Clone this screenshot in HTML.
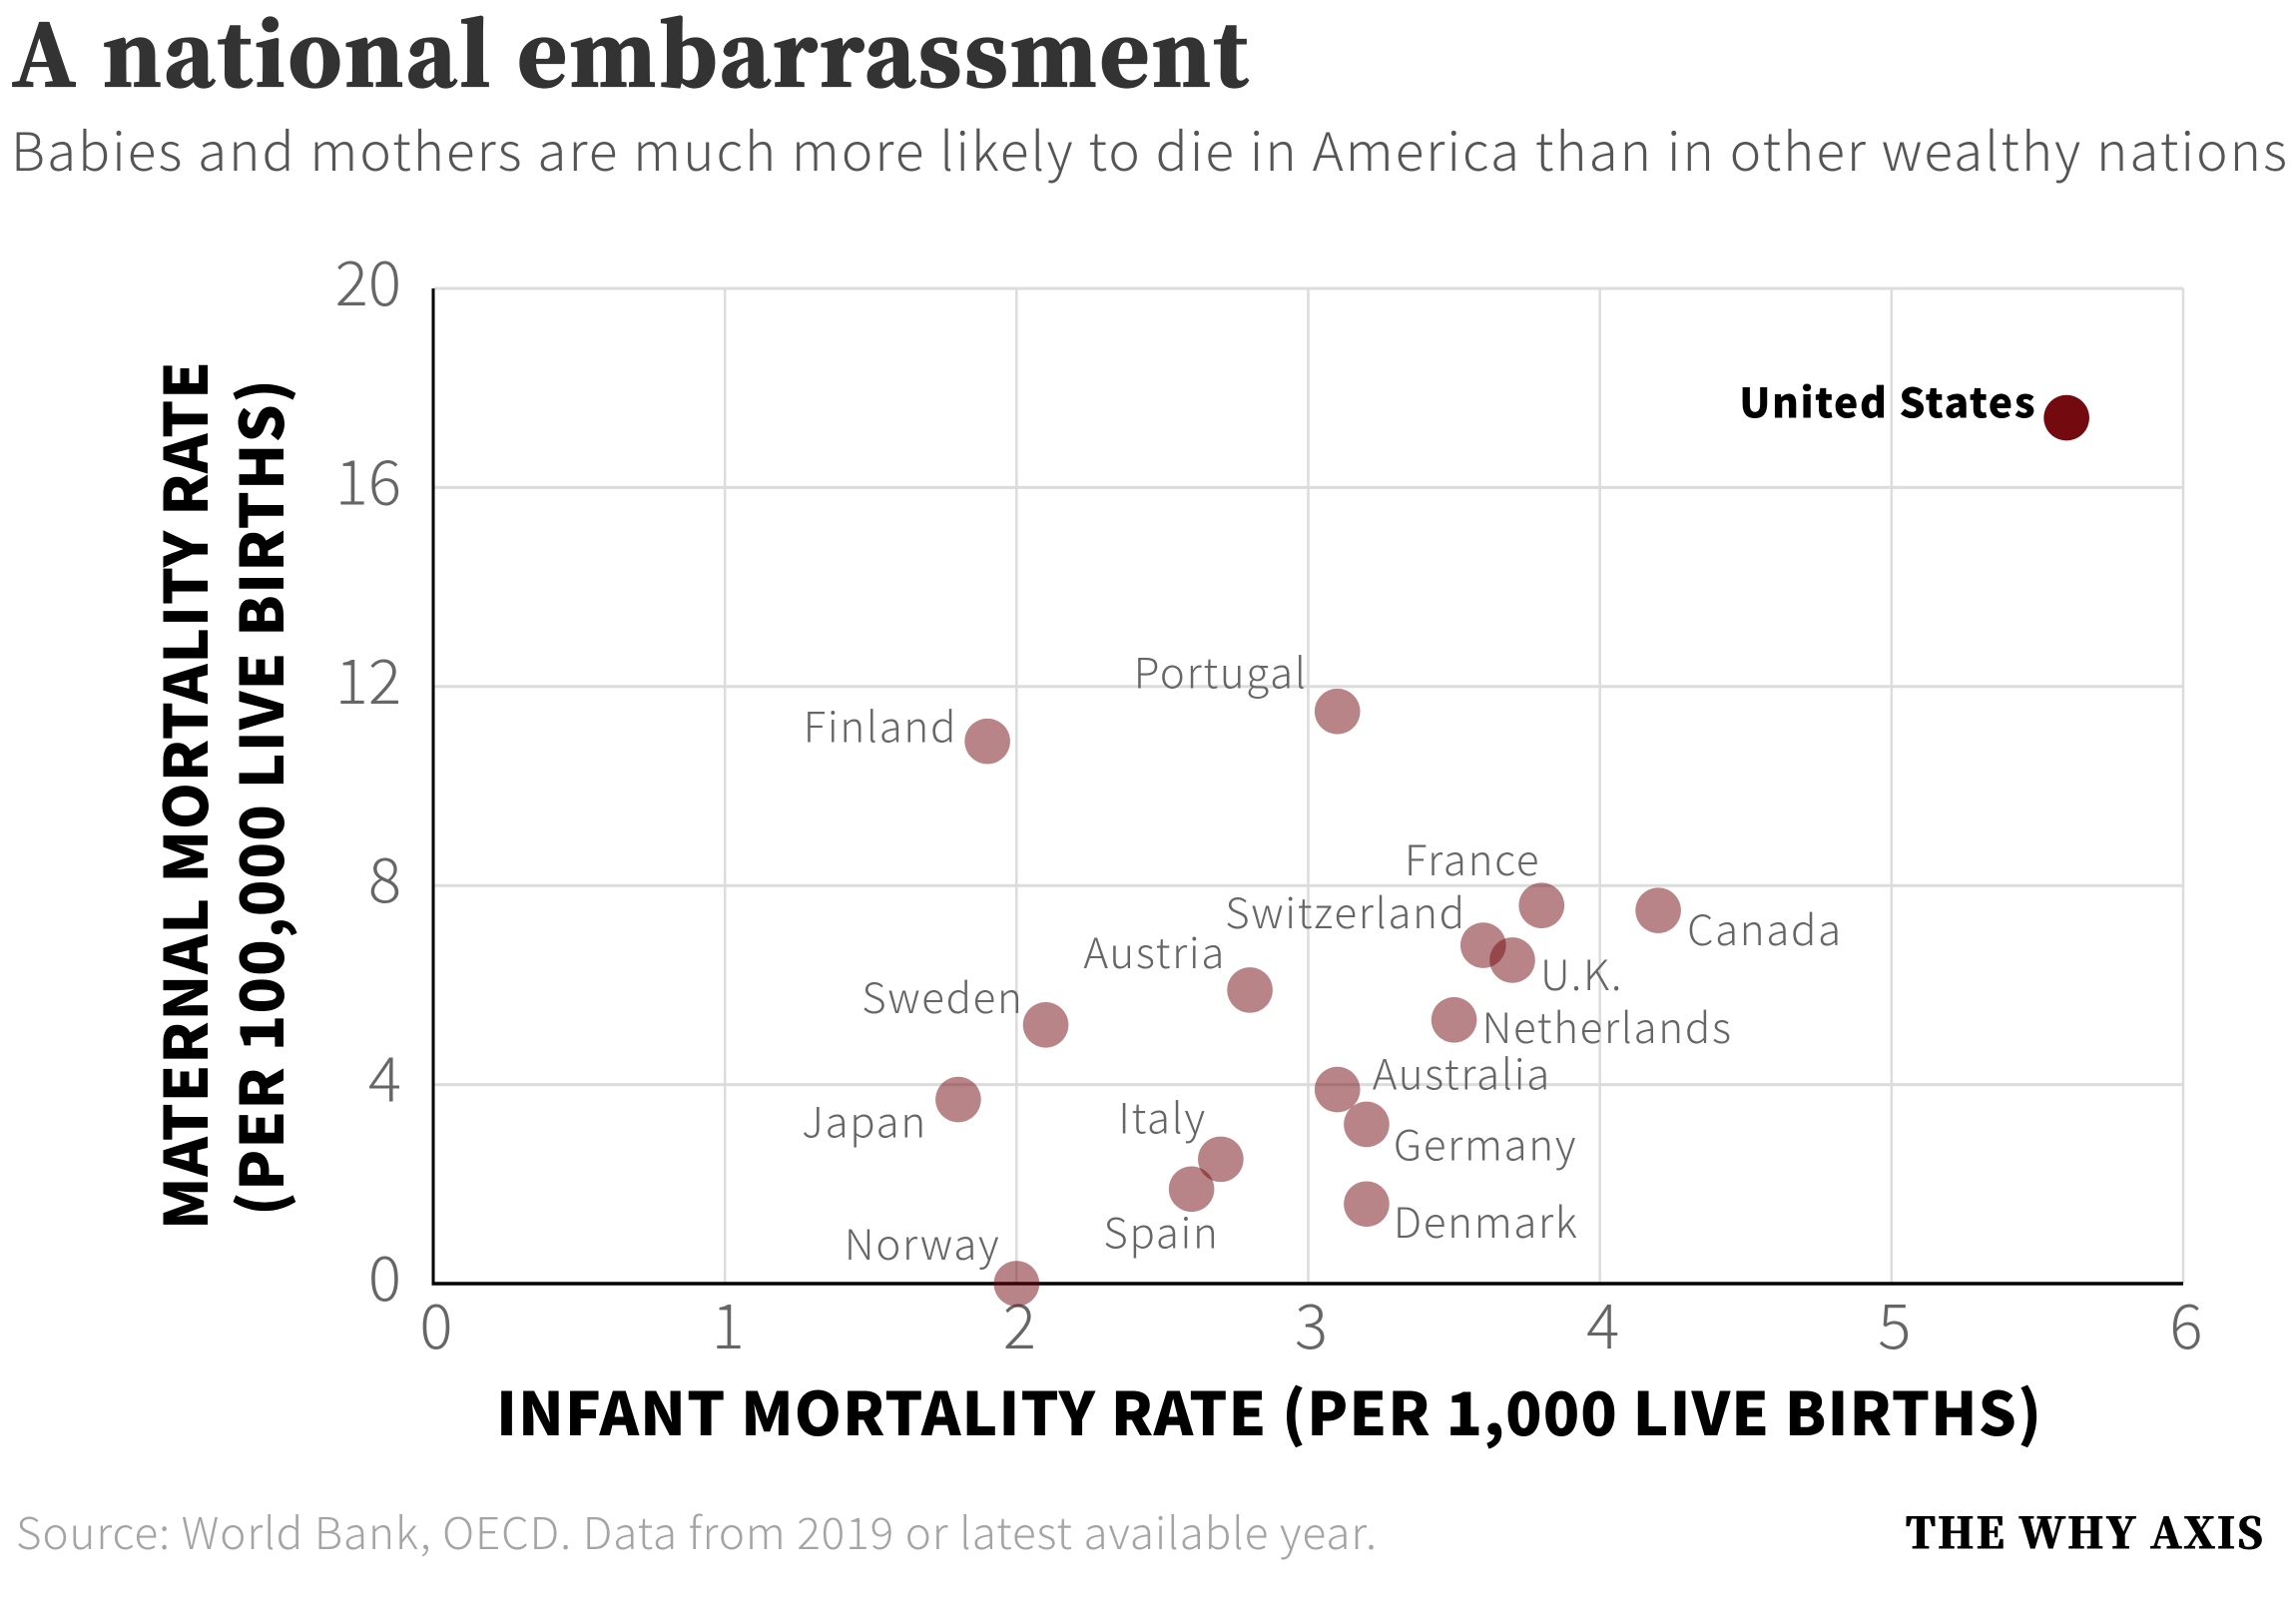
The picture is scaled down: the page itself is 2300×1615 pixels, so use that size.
<!DOCTYPE html>
<html lang="en">
<head>
<meta charset="utf-8">
<title>A national embarrassment</title>
<style>
html,body{margin:0;padding:0;background:#fff;}
svg{display:block;}
.sans{font-family:"Noto Sans CJK JP","Liberation Sans",sans-serif;}
.serif{font-family:"Noto Serif CJK SC","Liberation Serif",serif;}
.light{font-weight:300;}
.heavy{font-weight:900;}
.bold{font-weight:700;}
</style>
</head>
<body>
<svg id="chart" width="2300" height="1615" viewBox="0 0 2300 1615" xmlns="http://www.w3.org/2000/svg">
  <rect width="2300" height="1615" fill="#fff"/>
  <text class="serif heavy" x="12" y="86" font-size="84" fill="#333" stroke="#333" stroke-width="2.2" textLength="1238" lengthAdjust="spacing">A national embarrassment</text>
  <text class="sans light" x="11" y="171" font-size="53" fill="#555" textLength="2280" lengthAdjust="spacing">Babies and mothers are much more likely to die in America than in other wealthy nations</text>
  <g id="grid"></g>
  <g id="ticks"></g>
  <g id="axes"></g>
  <g id="points"></g>
  <g id="labels"></g>
  <text class="sans heavy" x="497" y="1438" font-size="60" fill="#000" textLength="1548" lengthAdjust="spacing">INFANT MORTALITY RATE (PER 1,000 LIVE BIRTHS)</text>
  <text class="sans heavy" transform="translate(208,1232) rotate(-90)" font-size="60" fill="#000" textLength="870" lengthAdjust="spacing">MATERNAL MORTALITY RATE</text>
  <text class="sans heavy" transform="translate(284,1218) rotate(-90)" font-size="60" fill="#000" textLength="838" lengthAdjust="spacing">(PER 100,000 LIVE BIRTHS)</text>
  <text class="sans light" x="16" y="1552" font-size="44" fill="#a4a4a4" textLength="1363" lengthAdjust="spacing">Source: World Bank, OECD. Data from 2019 or latest available year.</text>
  <text class="serif heavy" x="1909" y="1551" font-size="42" fill="#000" stroke="#000" stroke-width="1" textLength="358" lengthAdjust="spacing">THE WHY AXIS</text>
</svg>
<script>
const countries = ["United States","Portugal","Finland","France","Canada","Switzerland","U.K.","Austria","Sweden","Netherlands","Australia","Japan","Germany","Italy","Spain","Denmark","Norway"];
const infantRates = [5.6,3.1,1.9,3.8,4.2,3.6,3.7,2.8,2.1,3.5,3.1,1.8,3.2,2.7,2.6,3.2,2.0];
const maternalRates = [17.4,11.5,10.9,7.6,7.5,6.8,6.5,5.9,5.2,5.3,3.9,3.7,3.2,2.5,1.9,1.6,0];
const xTickValues = [0,1,2,3,4,5,6];
const yTickValues = [0,4,8,12,16,20];

const SVG_NS = "http://www.w3.org/2000/svg";
const plot = {left:434, right:2187, top:289, bottom:1286};
const xDomain = [0,6];
const yDomain = [0,20];
function xScale(v){return plot.left + (v-xDomain[0])/(xDomain[1]-xDomain[0])*(plot.right-plot.left);}
function yScale(v){return plot.bottom - (v-yDomain[0])/(yDomain[1]-yDomain[0])*(plot.bottom-plot.top);}

/* label placement relative to each country's point: [anchor, dx, dy] */
const labelPlacement = {
  "United States":["end",-30,0],
  "Portugal":["end",-30,-23],
  "Finland":["end",-30,1],
  "France":["end",-1,-30],
  "Canada":["start",29,35],
  "Switzerland":["end",-17,-17],
  "U.K.":["start",28,30],
  "Austria":["end",-24,-22],
  "Sweden":["end",-22,-12],
  "Netherlands":["start",28,23],
  "Australia":["start",35,0],
  "Japan":["end",-31,38],
  "Germany":["start",27,36],
  "Italy":["end",-14,-26],
  "Spain":["end",28,59],
  "Denmark":["start",27,34],
  "Norway":["end",-16,-24]
};

const grid = document.getElementById("grid");
const ticks = document.getElementById("ticks");
const axes = document.getElementById("axes");
const points = document.getElementById("points");
const labels = document.getElementById("labels");

function line(parent,x1,y1,x2,y2,stroke,width){
  const el = document.createElementNS(SVG_NS,"line");
  el.setAttribute("x1",x1);el.setAttribute("y1",y1);
  el.setAttribute("x2",x2);el.setAttribute("y2",y2);
  el.setAttribute("stroke",stroke);el.setAttribute("stroke-width",width);
  parent.appendChild(el);
  return el;
}
function tickText(x,y,anchor,str){
  const el = document.createElementNS(SVG_NS,"text");
  el.setAttribute("x",x);el.setAttribute("y",y);
  el.setAttribute("text-anchor",anchor);
  el.setAttribute("font-size","62");
  el.setAttribute("fill","#666");
  el.setAttribute("class","sans light");
  el.textContent = str;
  ticks.appendChild(el);
  return el;
}

xTickValues.forEach(function(v){
  const gl = line(grid,xScale(v),plot.top,xScale(v),plot.bottom,"#dcdcdc",2.5);
  
  
  const t = tickText(xScale(v)+3,1351,"middle",String(v));
  
  
});
yTickValues.forEach(function(v){
  const gl = line(grid,plot.left,yScale(v),plot.right,yScale(v),"#dcdcdc",3);
  
  
  const t = tickText(402,yScale(v)+17,"end",String(v));
  
  
});

const xAxisLine = line(axes,plot.left-1.5,plot.bottom,plot.right,plot.bottom,"#000",3.5);


const yAxisLine = line(axes,plot.left,plot.top,plot.left,plot.bottom,"#000",3);



countries.forEach(function(name,i){
  const isUS = name === "United States";
  const cx = xScale(infantRates[i]);
  const cy = yScale(maternalRates[i]);
  const c = document.createElementNS(SVG_NS,"circle");
  c.setAttribute("cx",cx);
  c.setAttribute("cy",cy);
  c.setAttribute("r",22.8);
  c.setAttribute("fill","#730a0f");
  c.setAttribute("fill-opacity",isUS ? 1 : 0.5);
  
  
  points.appendChild(c);

  const p = labelPlacement[name];
  const t = document.createElementNS(SVG_NS,"text");
  t.setAttribute("x",cx+p[1]);
  t.setAttribute("y",cy+p[2]);
  t.setAttribute("text-anchor",p[0]);
  t.setAttribute("font-size",isUS ? "41" : "42");
  t.setAttribute("letter-spacing",isUS ? "1.5" : "1.7");
  t.setAttribute("fill",isUS ? "#000" : "#666");
  t.setAttribute("class",isUS ? "sans heavy" : "sans light");
  t.textContent = name;
  
  
  labels.appendChild(t);
});
</script>
</body>
</html>
